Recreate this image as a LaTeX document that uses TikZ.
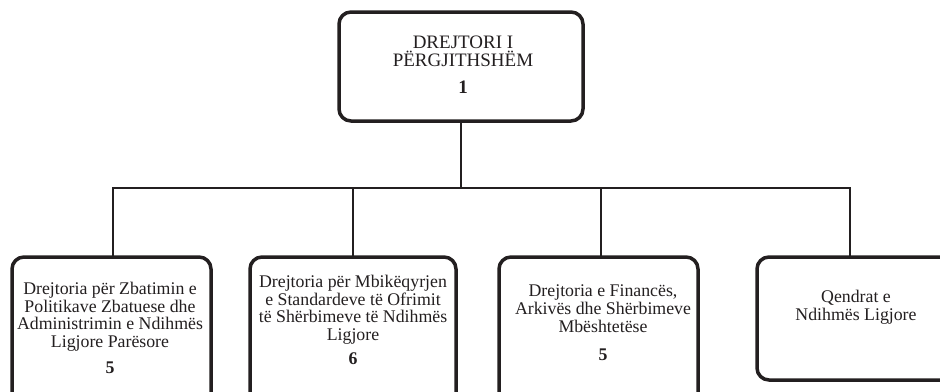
\documentclass[tikz,border=0pt]{standalone}
\usepackage{fontspec}
\setmainfont{Liberation Serif}
\usetikzlibrary{calc}
\definecolor{dark}{HTML}{231F20}
\tikzset{
  box/.style={draw=dark, line width=3.5pt, rounded corners=12pt, inner sep=0pt, outer sep=0pt},
  conn/.style={draw=dark, line width=2.3pt},
  lbl/.style={align=center, inner sep=0pt, text=dark, anchor=north, font=\fontsize{17.8}{17.8}\selectfont},
  toplbl/.style={align=center, inner sep=0pt, text=dark, anchor=north, font=\fontsize{19}{18.5}\selectfont}
}
\begin{document}
\begin{tikzpicture}[x=1pt,y=-1pt]
\useasboundingbox (0,0) rectangle (940,391);
\clip (0,0) rectangle (940,391);
\fill[white] (0,0) rectangle (940,391);
% boxes
\node[box, minimum width=244pt, minimum height=109pt] (top) at (461,66.5) {};
\node[box, minimum width=199pt, minimum height=148pt] (b1) at (111.5,331) {};
\node[box, minimum width=206pt, minimum height=148pt] (b2) at (353,331) {};
\node[box, minimum width=199pt, minimum height=148pt] (b3) at (598.5,331) {};
\node[box, minimum width=198pt, minimum height=123pt] (b4) at (856,318.5) {};
% labels
\node[toplbl] (tl) at (463,35.5) {DREJTORI I\\PËRGJITHSHËM\\[8.5pt]\textbf{1}};
\node[lbl] (l1) at (110,281.8) {Drejtoria për Zbatimin e\\Politikave Zbatuese dhe\\Administrimin e Ndihmës\\Ligjore Parësore\\[8pt]\textbf{5}};
\node[lbl] (l2) at (353,274.8) {Drejtoria për Mbikëqyrjen\\e Standardeve të Ofrimit\\të Shërbimeve të Ndihmës\\Ligjore\\[5.5pt]\textbf{6}};
\node[lbl] (l3) at (603,284.8) {Drejtoria e Financës,\\Arkivës dhe Shërbimeve\\Mbështetëse\\[10.5pt]\textbf{5}};
\node[lbl] (l4) at (856,289.8) {Qendrat e\\Ndihmës Ligjore};
% connectors
\coordinate (bar) at (461,188);
\draw[conn] (top.south) -- (bar);
\draw[conn] (bar) -| ([xshift=1.5pt]b1.north);
\draw[conn] (bar) -| (b2.north);
\draw[conn] (bar) -| ([xshift=2.5pt]b3.north);
\draw[conn] (bar) -| ([xshift=-6pt]b4.north);
\end{tikzpicture}
\end{document}
